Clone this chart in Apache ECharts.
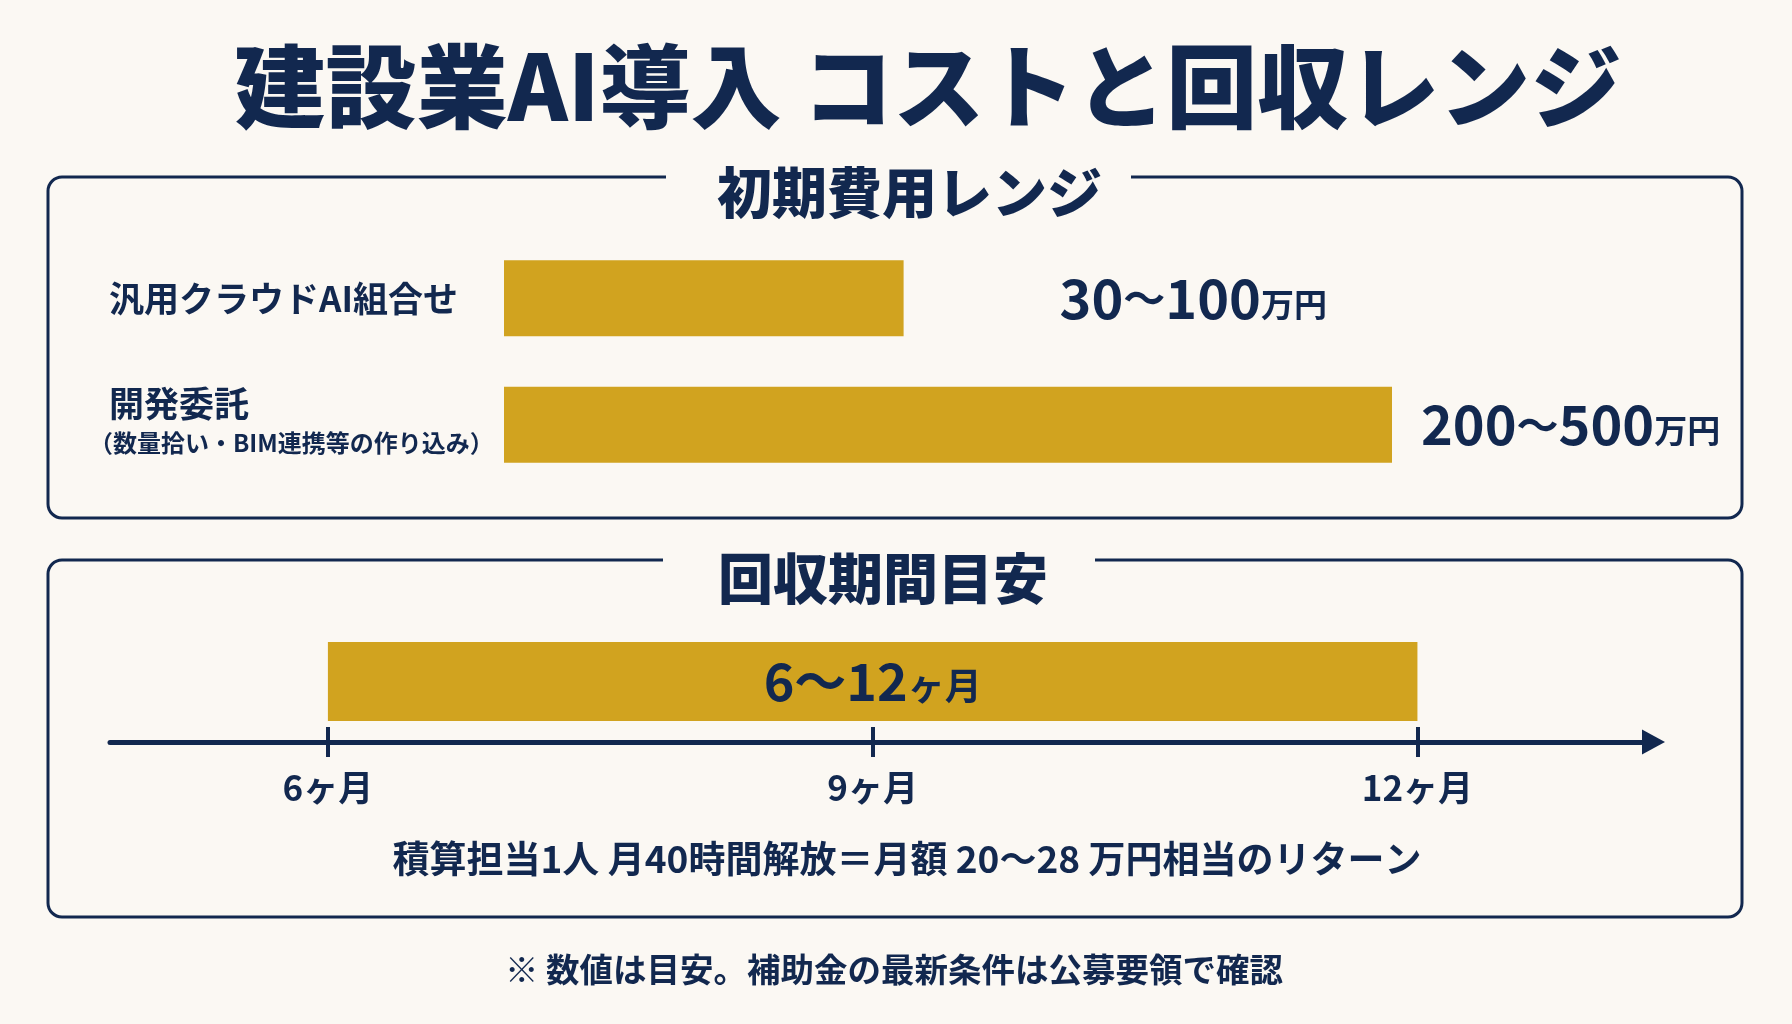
<!DOCTYPE html>
<html>
<head>
<meta charset="utf-8">
<script src="https://cdn.jsdelivr.net/npm/echarts@6/dist/echarts.min.js"></script>
<style>
html,body{margin:0;padding:0;background:#FBF8F3;}
#chart{width:1792px;height:1024px;}
</style>
</head>
<body>
<div id="chart"></div>
<script>
// ---- data ----
const costCategories = ['汎用クラウドAI組合せ', '開発委託'];
const costSubLabels = ['', '（数量拾い・BIM連携等の作り込み）'];
const costMin = [30, 200];          // 万円
const costMax = [100, 500];         // 万円
const costBarLength = [45, 100];    // relative bar length as drawn
const paybackStart = [6];           // months
const paybackEnd = [12];            // months
const paybackTicks = [6, 9, 12];
const paybackTickLabels = ['6ヶ月', '9ヶ月', '12ヶ月'];
const returnText = '積算担当1人 月40時間解放＝月額 20〜28 万円相当のリターン';
const noteText = '※ 数値は目安。補助金の最新条件は公募要領で確認';

// ---- style ----
const NAVY = '#12284F';
const GOLD = '#D1A31F';
const BG = '#FBF8F3';
const FONT = '"Noto Sans CJK JP", "Noto Sans", sans-serif';

const chart = echarts.init(document.getElementById('chart'));

const labelDist = [156, 29];

const option = {
  backgroundColor: BG,
  textStyle: { fontFamily: FONT },
  animation: false,
  graphic: [
    { type: 'rect', z: 0, shape: { x: 48, y: 177, width: 1694, height: 341, r: 14 },
      style: { fill: 'none', stroke: NAVY, lineWidth: 3 } },
    { type: 'rect', z: 0, shape: { x: 48, y: 560, width: 1694, height: 357, r: 14 },
      style: { fill: 'none', stroke: NAVY, lineWidth: 3 } },
    { type: 'rect', z: 1, shape: { x: 666, y: 165, width: 465, height: 25 }, style: { fill: BG } },
    { type: 'rect', z: 1, shape: { x: 663, y: 548, width: 432, height: 25 }, style: { fill: BG } },
    { type: 'text', z: 2, x: 928, y: 86,
      style: { text: '建設業AI導入 コストと回収レンジ', fill: NAVY, font: '900 91px ' + FONT,
               textAlign: 'center', textVerticalAlign: 'middle', verticalAlign: 'middle' } },
    { type: 'text', z: 2, x: 717, y: 192,
      style: { text: '初期費用レンジ', fill: NAVY, font: '900 55px ' + FONT,
               textAlign: 'left', textVerticalAlign: 'middle', verticalAlign: 'middle' } },
    { type: 'text', z: 2, x: 718, y: 578,
      style: { text: '回収期間目安', fill: NAVY, font: '900 55px ' + FONT,
               textAlign: 'left', textVerticalAlign: 'middle', verticalAlign: 'middle' } },
    { type: 'text', z: 2, x: 907, y: 859,
      style: { text: returnText, fill: NAVY, font: 'bold 37px ' + FONT,
               textAlign: 'center', textVerticalAlign: 'middle', verticalAlign: 'middle' } },
    { type: 'text', z: 2, x: 894, y: 969,
      style: { text: noteText, fill: NAVY, font: 'bold 33.5px ' + FONT,
               textAlign: 'center', textVerticalAlign: 'middle', verticalAlign: 'middle' } }
  ],
  grid: [
    { left: 504, width: 888, top: 235, height: 253 },
    { left: 110, right: 138.5, top: 621, bottom: 282 }
  ],
  xAxis: [
    { gridIndex: 0, type: 'value', min: 0, max: 100, show: false },
    { gridIndex: 1, type: 'value', min: 4.8, max: 13.3, position: 'bottom',
      axisLine: { show: true, onZero: false, lineStyle: { color: NAVY, width: 5 },
                  symbol: ['none', 'triangle'], symbolSize: [25, 23] },
      axisTick: { show: true, length: 15, customValues: paybackTicks,
                  lineStyle: { color: NAVY, width: 4 } },
      axisLabel: { show: true, customValues: paybackTicks, margin: 28,
                   formatter: function (v) {
                     const i = paybackTicks.indexOf(v);
                     return i >= 0 ? paybackTickLabels[i] : '';
                   },
                   color: NAVY, fontSize: 35, fontWeight: 'bold', fontFamily: FONT },
      splitLine: { show: false } },
    { gridIndex: 1, type: 'value', min: 4.8, max: 13.3, position: 'bottom',
      axisLine: { show: false },
      axisTick: { show: true, inside: true, length: 15, customValues: paybackTicks,
                  lineStyle: { color: NAVY, width: 4 } },
      axisLabel: { show: false }, splitLine: { show: false } }
  ],
  yAxis: [
    { gridIndex: 0, type: 'category', data: costCategories, inverse: true,
      axisLine: { show: false }, axisTick: { show: false },
      axisLabel: {
        align: 'left', margin: 395, color: NAVY, fontFamily: FONT,
        formatter: function (v, idx) {
          const sub = costSubLabels[idx];
          return sub ? '{m|' + v + '}\n{s|' + sub + '}' : '{m|' + v + '}';
        },
        rich: {
          m: { fontSize: 35, fontWeight: 'bold', color: NAVY, fontFamily: FONT, lineHeight: 46 },
          s: { fontSize: 24, fontWeight: 'bold', color: NAVY, fontFamily: FONT, lineHeight: 42,
               padding: [0, 0, 10, -20] }
        }
      } },
    { gridIndex: 1, type: 'category', data: ['回収期間'], show: false }
  ],
  series: [
    {
      type: 'bar', xAxisIndex: 0, yAxisIndex: 0, barWidth: 76,
      itemStyle: { color: GOLD },
      data: costBarLength.map(function (v, i) {
        return { value: v, label: { distance: labelDist[i] } };
      }),
      label: {
        show: true, position: 'right',
        formatter: function (p) {
          const i = p.dataIndex;
          return '{n|' + costMin[i] + '}{t|〜}{n|' + costMax[i] + '}{u|万円}';
        },
        rich: {
          n: { fontSize: 54, fontWeight: 'bold', color: NAVY, fontFamily: FONT },
          t: { fontSize: 42, fontWeight: 'bold', color: NAVY, fontFamily: FONT },
          u: { fontSize: 33, fontWeight: 'bold', color: NAVY, fontFamily: FONT, padding: [12, 0, 0, 0] }
        }
      }
    },
    {
      type: 'bar', xAxisIndex: 1, yAxisIndex: 1, stack: 'pb', barWidth: 79,
      itemStyle: { color: 'rgba(0,0,0,0)' }, silent: true,
      data: paybackStart
    },
    {
      type: 'bar', xAxisIndex: 1, yAxisIndex: 1, stack: 'pb', barWidth: 79,
      itemStyle: { color: GOLD },
      data: paybackEnd.map(function (e, i) { return e - paybackStart[i]; }),
      label: {
        show: true, position: 'inside',
        formatter: function () {
          return '{n|' + paybackStart[0] + '}{t|〜}{n|' + paybackEnd[0] + '}{u|ヶ月}';
        },
        rich: {
          n: { fontSize: 52, fontWeight: 'bold', color: NAVY, fontFamily: FONT },
          t: { fontSize: 52, fontWeight: 'bold', color: NAVY, fontFamily: FONT },
          u: { fontSize: 37, fontWeight: 'bold', color: NAVY, fontFamily: FONT, padding: [8, 0, 0, 0] }
        }
      }
    }
  ]
};
chart.setOption(option);
</script>
</body>
</html>
